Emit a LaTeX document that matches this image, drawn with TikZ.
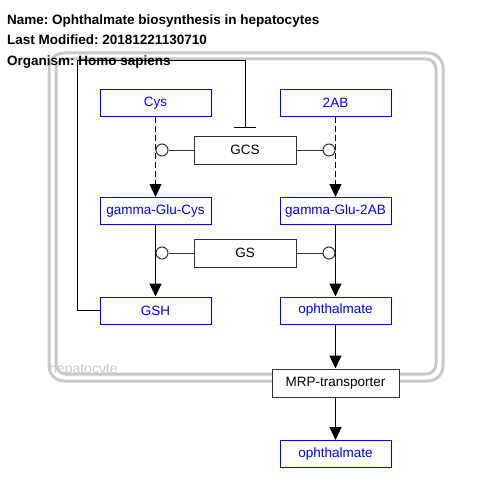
\documentclass[tikz,border=0pt]{standalone}
\usepackage{fontspec}
\setmainfont{Liberation Sans}
\usepackage{xcolor}
\usepackage{tikz}
\usetikzlibrary{calc, arrows.meta, positioning}
\frenchspacing

\definecolor{speciesblue}{RGB}{0,0,255}
\definecolor{cellgray}{RGB}{200,200,200}

\tikzset{
    species/.style={draw=speciesblue, text=speciesblue, fill=white, line width=1pt,
        minimum width=111pt, minimum height=27pt, inner sep=0pt,
        font=\fontsize{13.5}{16}\selectfont},
    enzyme/.style={draw=black!80, fill=white, line width=1pt,
        minimum width=102pt, minimum height=28pt, inner sep=0pt,
        font=\fontsize{13.5}{16}\selectfont},
    catal/.style={circle, draw=black!80, fill=white, line width=1pt,
        minimum size=12pt, inner sep=0pt},
    conv/.style={->, line width=1.1pt, black},
    titletext/.style={anchor=base west, inner sep=0pt,
        font=\fontsize{13.5}{16}\selectfont\bfseries}
}

\begin{document}
\begin{tikzpicture}[>={Triangle[width=12pt,length=13pt]}, x=1pt, y=-1pt]
    \useasboundingbox (0,0) rectangle (480,503);

    % Tế bào gan
    \node[anchor=base west, inner sep=0pt, text=cellgray,
        font=\fontsize{14}{16}\selectfont] (cellname) at (49,373) {hepatocyte};
    \draw[cellgray, line width=3pt, rounded corners=15pt] (49,53) rectangle (443,381);
    \draw[cellgray, line width=3pt, rounded corners=10pt] (56,59) rectangle (436,374);

    % Tiêu đề
    \node[titletext] (name) at (7,25) {Name: Ophthalmate biosynthesis in hepatocytes};
    \node[titletext] (modif) at (7,45) {Last Modified: 20181221130710};
    \node[titletext] (organism) at (7,65.5) {Organism: Homo sapiens};

    % Các chất
    \node[species] (cys) at (155.5,103) {Cys};
    \node[species] (ab) at (335.5,103) {2AB};
    \node[species] (ggcys) at (155.5,211) {gamma-Glu-Cys};
    \node[species] (ggab) at (335.5,211) {gamma-Glu-2AB};
    \node[species] (gsh) at (155.5,310.5) {GSH};
    \node[species] (ophin) at (335.5,310.5) {ophthalmate};
    \node[species] (ophout) at (335.5,454) {ophthalmate};

    % Enzym
    \node[enzyme] (gcs) at (245,150) {GCS};
    \node[enzyme] (gs) at (245,253) {GS};
    \node[enzyme, minimum width=127pt] (mrp) at (335.5,383) {MRP-transporter};

    % Các phản ứng
    \draw[conv, dash pattern=on 6pt off 3pt] (cys) -- (ggcys);
    \draw[conv, dash pattern=on 6pt off 3pt] (ab) -- (ggab);
    \draw[conv] (ggcys) -- (gsh);
    \draw[conv] (ggab) -- (ophin);
    \draw[conv] (ophin) -- (mrp);
    \draw[conv] (mrp) -- (ophout);

    % Xúc tác
    \node[catal] (c1) at (162,150) {};
    \node[catal] (c2) at (329,150) {};
    \node[catal] (c3) at (162,253) {};
    \node[catal] (c4) at (329,253) {};
    \draw[line width=1pt, black!80] (gcs.west) -- (c1.east);
    \draw[line width=1pt, black!80] (gcs.east) -- (c2.west);
    \draw[line width=1pt, black!80] (gs.west) -- (c3.east);
    \draw[line width=1pt, black!80] (gs.east) -- (c4.west);

    % Ức chế ngược
    \coordinate (bend) at (77,61);
    \coordinate (gcsinh) at (245,128);
    \draw[line width=1pt, -{Bar[width=22pt, line width=1.5pt]}] (gsh.west) -| (bend) -| (gcsinh);
\end{tikzpicture}
\end{document}
